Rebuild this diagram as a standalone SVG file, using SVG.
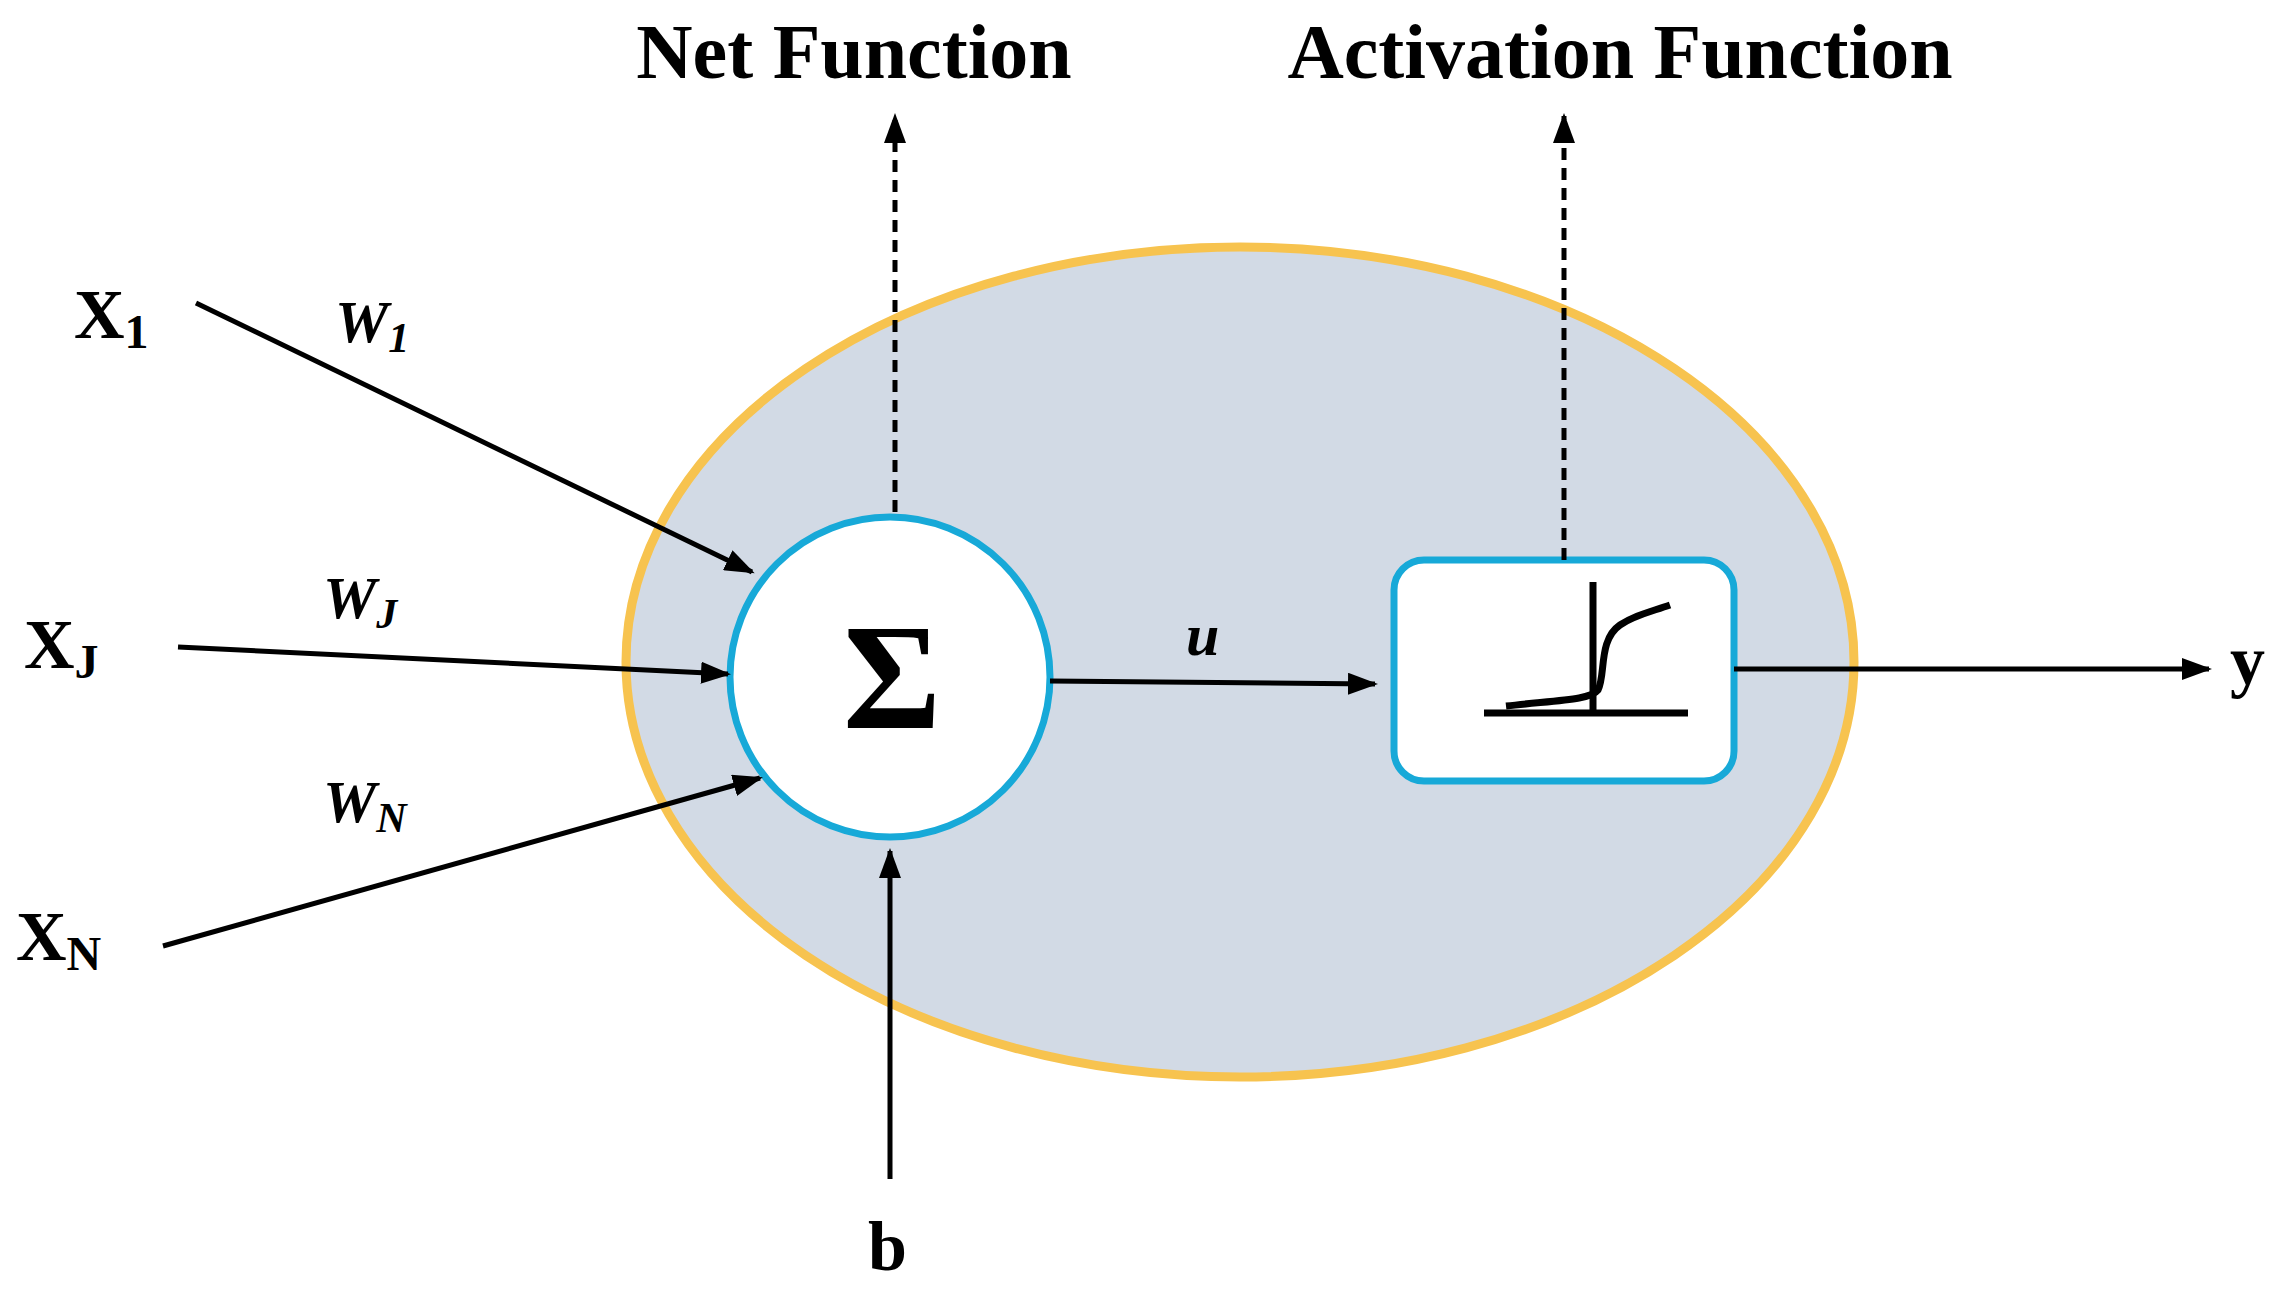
<svg xmlns="http://www.w3.org/2000/svg" width="2282" height="1297" viewBox="0 0 2282 1297">
<defs>
<marker id="a" viewBox="0 0 10 10" refX="9" refY="5" markerWidth="30" markerHeight="22" markerUnits="userSpaceOnUse" orient="auto" preserveAspectRatio="none"><path d="M0,0 L10,5 L0,10 z" fill="#000"/></marker>
<style>
.t{font-family:"Liberation Serif",serif;font-weight:bold;fill:#000}
.l{stroke:#000;stroke-width:5;fill:none}
.d{stroke:#000;stroke-width:5;fill:none;stroke-dasharray:12,8}
</style>
</defs>
<rect width="2282" height="1297" fill="#fff"/>
<g id="cell"><ellipse cx="1240" cy="662" rx="614" ry="415" fill="#d2dae5" stroke="#f7c34f" stroke-width="9"/></g>
<g id="sum"><circle cx="890" cy="677" r="160" fill="#fff" stroke="#17a9d8" stroke-width="7"/><text class="t" x="892" y="728" font-size="150" text-anchor="middle">Σ</text></g>
<g id="act"><rect x="1394" y="560" width="340" height="221" rx="30" fill="#fff" stroke="#17a9d8" stroke-width="7"/>
<path d="M1484,713 L1688,713 M1593,582 L1593,713" stroke="#000" stroke-width="7" fill="none"/>
<path d="M1506,706 C1560,700 1590,700 1598,690 C1606,675 1598,640 1620,625 C1635,615 1650,612 1670,605" stroke="#000" stroke-width="7" fill="none"/></g>
<g id="connectors">
<line class="l" x1="196" y1="303" x2="752" y2="572" marker-end="url(#a)"/>
<line class="l" x1="178" y1="647" x2="728" y2="674" marker-end="url(#a)"/>
<line class="l" x1="163" y1="946" x2="760" y2="778" marker-end="url(#a)"/>
<line class="l" x1="890" y1="1179" x2="890" y2="851" marker-end="url(#a)"/>
<line class="l" x1="1050" y1="681" x2="1375" y2="684" marker-end="url(#a)"/>
<line class="l" x1="1734" y1="669" x2="2209" y2="669" marker-end="url(#a)"/>
<line class="d" x1="895" y1="512" x2="895" y2="116" marker-end="url(#a)"/>
<line class="d" x1="1564" y1="560" x2="1564" y2="116" marker-end="url(#a)"/>
</g>
<g id="labels">
<text class="t" x="854" y="78" font-size="78" text-anchor="middle">Net Function</text>
<text class="t" x="1620" y="78" font-size="78" text-anchor="middle">Activation Function</text>
<text class="t" x="74" y="338" font-size="70">X<tspan font-size="48" dy="10">1</tspan></text>
<text class="t" x="24" y="668" font-size="70">X<tspan font-size="48" dy="10">J</tspan></text>
<text class="t" x="16" y="960" font-size="70">X<tspan font-size="48" dy="10">N</tspan></text>
<text class="t" x="2230" y="684" font-size="70">y</text>
<text class="t" x="868" y="1270" font-size="70">b</text>
<text class="t" x="335" y="342" font-size="60" font-style="italic">W<tspan font-size="42" dy="10">1</tspan></text>
<text class="t" x="323" y="618" font-size="60" font-style="italic">W<tspan font-size="42" dy="10">J</tspan></text>
<text class="t" x="323" y="822" font-size="60" font-style="italic">W<tspan font-size="42" dy="10">N</tspan></text>
<text class="t" x="1186" y="655" font-size="60" font-style="italic">u</text>
</g>
</svg>
